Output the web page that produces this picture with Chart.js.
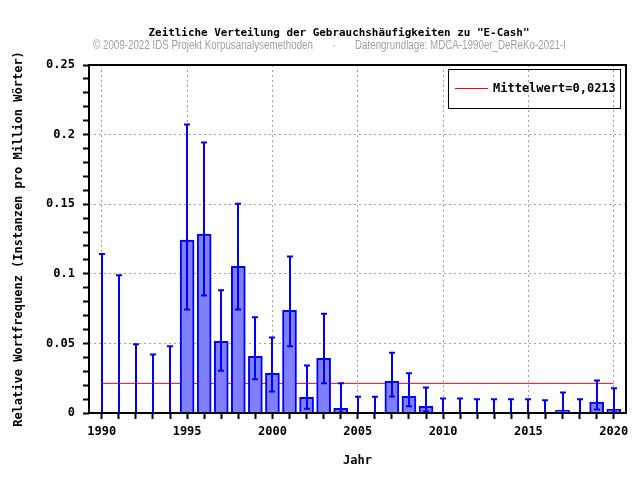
<!DOCTYPE html>
<html>
<head>
<meta charset="utf-8">
<script src="https://cdn.jsdelivr.net/npm/chart.js@4"></script>
<style>
  body { margin: 0; background: #fff; }
  canvas { display: block; }
</style>
</head>
<body>
<canvas id="chart" width="640" height="480"></canvas>
<script>
// Data
const years = [1990, 1991, 1992, 1993, 1994, 1995, 1996, 1997, 1998, 1999,
  2000, 2001, 2002, 2003, 2004, 2005, 2006, 2007, 2008, 2009,
  2010, 2011, 2012, 2013, 2014, 2015, 2016, 2017, 2018, 2019, 2020];
const freq = [0, 0, 0, 0, 0, 0.1243, 0.1286, 0.0515, 0.1053, 0.0407,
  0.0285, 0.0737, 0.0112, 0.0392, 0.0033, 0, 0, 0.0227, 0.0119, 0.0048,
  0, 0, 0, 0, 0, 0, 0, 0.0019, 0, 0.0079, 0.0026];
const errLow = [0, 0, 0, 0, 0, 0.0744, 0.0845, 0.0304, 0.0744, 0.0242,
  0.0155, 0.0479, 0.0031, 0.0213, 0.0004, 0, 0, 0.0119, 0.0048, 0.0010,
  0, 0, 0, 0, 0, 0, 0, 0.0002, 0, 0.0026, 0.0003];
const errHigh = [0.1142, 0.0989, 0.0493, 0.0421, 0.0479, 0.2073, 0.1944, 0.0881, 0.1504, 0.0687,
  0.0543, 0.1125, 0.0342, 0.0713, 0.0213, 0.0117, 0.0117, 0.0433, 0.0285, 0.0184,
  0.0105, 0.0105, 0.0098, 0.0098, 0.0098, 0.0098, 0.0091, 0.0148, 0.0098, 0.0234, 0.0177];
const mean = 0.0213;
const yMajor = [0, 0.05, 0.1, 0.15, 0.2, 0.25];
const yMinor = [0, 0.01, 0.02, 0.03, 0.04, 0.05, 0.06, 0.07, 0.08, 0.09, 0.1, 0.11, 0.12,
  0.13, 0.14, 0.15, 0.16, 0.17, 0.18, 0.19, 0.2, 0.21, 0.22, 0.23, 0.24, 0.25];
const xLabels = [1990, 1995, 2000, 2005, 2010, 2015, 2020];

const MONO = '"DejaVu Sans Mono", monospace';
const isMajorY = v => yMajor.some(m => Math.abs(m - v) < 1e-9);

// error bars, frame, titles and legend
const extras = {
  id: 'extras',
  afterDatasetsDraw(chart) {
    const { ctx, scales: { x, y } } = chart;
    ctx.save();
    ctx.strokeStyle = '#0000ff';
    ctx.lineWidth = 2;
    years.forEach((yr, i) => {
      const px = Math.round(x.getPixelForValue(yr));
      const top = y.getPixelForValue(errHigh[i]);
      const bot = y.getPixelForValue(errLow[i]);
      ctx.beginPath();
      ctx.moveTo(px, top); ctx.lineTo(px, bot);
      ctx.moveTo(px - 3, top); ctx.lineTo(px + 3, top);
      ctx.moveTo(px - 3, bot); ctx.lineTo(px + 3, bot);
      ctx.stroke();
    });
    ctx.restore();
  },
  afterDraw(chart) {
    const { ctx, chartArea: a } = chart;
    ctx.save();
    // plot frame
    ctx.strokeStyle = '#000';
    ctx.lineWidth = 2;
    ctx.strokeRect(a.left, a.top, a.right - a.left, a.bottom - a.top);

    // legend box
    ctx.lineWidth = 1;
    ctx.strokeRect(448.5, 69.5, 172, 39);
    ctx.strokeStyle = '#ff0000';
    ctx.beginPath();
    ctx.moveTo(455, 88.5); ctx.lineTo(488, 88.5);
    ctx.stroke();
    ctx.fillStyle = '#000';
    ctx.font = 'bold 12px ' + MONO;
    ctx.textBaseline = 'middle';
    ctx.textAlign = 'left';
    ctx.fillText('Mittelwert=' + mean.toFixed(4).replace('.', ','), 493, 89);

    // title
    ctx.font = 'bold 11px ' + MONO;
    ctx.textAlign = 'center';
    ctx.fillText('Zeitliche Verteilung der Gebrauchshäufigkeiten zu "E-Cash"', 339, 33, 381);

    // source line
    ctx.fillStyle = '#a0a0a0';
    ctx.font = '12px "Liberation Sans", Arial, sans-serif';
    ctx.textAlign = 'left';
    ctx.fillText('© 2009-2022 IDS Projekt Korpusanalysemethoden', 93, 46, 220);
    ctx.fillText('·', 332, 46);
    ctx.fillText('Datengrundlage: MDCA-1990er_DeReKo-2021-I', 355, 46, 211);
    ctx.restore();
  }
};

new Chart(document.getElementById('chart'), {
  data: {
    datasets: [{
      type: 'bar',
      data: years.map((yr, i) => ({ x: yr, y: freq[i] })),
      backgroundColor: '#8080ff',
      borderColor: '#0000ff',
      borderWidth: 2,
      barThickness: 14,
      order: 1
    }, {
      type: 'line',
      data: [{ x: years[0], y: mean }, { x: years[years.length - 1], y: mean }],
      borderColor: '#ff0000',
      borderWidth: 1,
      pointRadius: 0,
      order: 2
    }]
  },
  options: {
    responsive: false,
    animation: false,
    layout: { padding: { top: 65, right: 14, left: 0, bottom: 0 } },
    plugins: { legend: { display: false }, tooltip: { enabled: false } },
    scales: {
      x: {
        type: 'linear',
        offset: false,
        min: 1989.25,
        max: 2020.72,
        afterBuildTicks: axis => { axis.ticks = years.map(v => ({ value: v })); },
        afterFit: s => { s.height = 67; },
        ticks: {
          autoSkip: false,
          maxRotation: 0,
          padding: 6,
          color: '#000',
          font: { family: MONO, weight: 'bold', size: 12 },
          callback: v => xLabels.includes(v) ? String(v) : ''
        },
        grid: {
          offset: false,
          color: c => (c.tick && xLabels.includes(c.tick.value)) ? '#a0a0a0' : 'rgba(0,0,0,0)',
          tickBorderDash: [],
          tickColor: '#000',
          tickWidth: 2,
          tickLength: 6
        },
        border: { display: false, dash: [2, 3] },
        title: {
          display: true,
          text: 'Jahr',
          color: '#000',
          font: { family: MONO, weight: 'bold', size: 12 },
          padding: { top: 0, bottom: 12 }
        }
      },
      y: {
        min: 0,
        max: 0.25,
        afterBuildTicks: axis => { axis.ticks = yMinor.map(v => ({ value: v })); },
        afterFit: s => { s.width = 89; },
        ticks: {
          autoSkip: false,
          padding: 8,
          color: '#000',
          font: { family: MONO, weight: 'bold', size: 12 },
          callback: v => isMajorY(v) ? String(+v.toFixed(2)) : ''
        },
        grid: {
          color: c => (c.tick && isMajorY(c.tick.value)) ? '#a0a0a0' : 'rgba(0,0,0,0)',
          tickBorderDash: [],
          tickColor: '#000',
          tickWidth: 2,
          tickLength: 6
        },
        border: { display: false, dash: [2, 3] },
        title: {
          display: true,
          text: 'Relative Wortfrequenz (Instanzen pro Million Wörter)',
          color: '#000',
          font: { family: MONO, weight: 'bold', size: 12 },
          padding: { top: 12, bottom: 0 }
        }
      }
    }
  },
  plugins: [extras]
});
</script>
</body>
</html>
